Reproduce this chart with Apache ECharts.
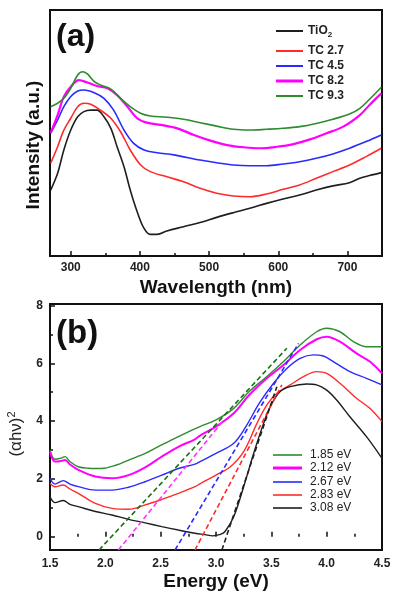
<!DOCTYPE html>
<html><head><meta charset="utf-8">
<script src="https://cdn.jsdelivr.net/npm/echarts@6/dist/echarts.min.js"></script>
<style>html,body{margin:0;padding:0;background:#fff}#c{width:400px;height:600px}</style>
</head><body><div id="c"></div>
<script>
// ---------- Panel (a): spectra ----------
const seriesNamesA = ['TiO2', 'TC 2.7', 'TC 4.5', 'TC 8.2', 'TC 9.3'];
const waveTickLabels = [300, 400, 500, 600, 700];
const waveMinorTicks = [350, 450, 550, 650];
const specTiO2 = [[271,26.8],[281,33.6],[290,43.1],[300,51.2],[310,56.6],[319,58.7],[329,59.3],[338,59.3],[348,56.6],[358,51.9],[367,44.4],[377,36.3],[386,26.8],[396,18.0],[406,11.2],[415,8.8],[425,8.8],[439,10.2],[463,11.9],[487,13.6],[511,15.7],[535,17.6],[559,19.4],[583,21.4],[607,23.2],[631,24.8],[655,26.8],[679,28.5],[703,29.8],[718,31.6],[732,32.7],[749,33.9]];
const specTC27 = [[271,37.7],[281,44.4],[290,51.2],[300,56.0],[310,60.7],[319,62.1],[329,61.7],[343,59.3],[358,56.0],[372,50.5],[386,43.1],[401,37.0],[415,34.3],[439,32.2],[463,30.2],[487,27.5],[511,25.5],[535,24.4],[559,24.1],[583,25.2],[607,27.1],[631,28.9],[655,31.6],[679,34.3],[703,37.0],[727,40.4],[749,43.8]];
const specTC45 = [[271,49.9],[281,55.3],[290,60.7],[300,64.8],[310,67.1],[319,67.5],[334,66.4],[348,64.1],[362,59.3],[377,51.2],[391,45.8],[406,43.1],[425,42.0],[449,41.1],[487,39.0],[511,37.9],[535,37.0],[559,36.7],[583,36.7],[607,37.4],[631,38.3],[655,39.7],[679,41.5],[703,43.8],[727,46.5],[749,49.2]];
const specTC82 = [[271,50.1],[281,57.3],[290,64.8],[300,68.8],[312,71.5],[324,70.5],[338,69.1],[353,68.2],[367,65.4],[382,60.7],[396,56.0],[410,54.2],[430,53.3],[454,51.9],[478,49.2],[502,46.9],[526,45.1],[550,44.2],[574,43.8],[598,44.4],[622,45.5],[646,47.4],[670,49.9],[694,52.6],[718,57.3],[732,61.4],[749,66.1]];
const specTC93 = [[271,60.7],[281,62.1],[290,64.1],[300,68.2],[310,73.6],[317,74.9],[324,74.0],[334,70.9],[343,69.5],[358,67.8],[372,64.1],[386,60.7],[401,58.0],[415,56.9],[439,56.4],[463,55.6],[487,54.2],[511,52.8],[535,51.5],[559,51.2],[583,51.5],[607,51.9],[631,52.6],[655,53.9],[679,55.6],[703,57.7],[718,60.0],[732,63.7],[749,68.6]];

// ---------- Panel (b): Tauc plot ----------
const seriesNamesB = ['1.85 eV', '2.12 eV', '2.67 eV', '2.83 eV', '3.08 eV'];
const taucYLabels = [0, 2, 4, 6, 8];
const taucYMinor = [1, 3, 5, 7];
const tauc185 = [[1.5,3.0],[1.545,2.68],[1.60,2.72],[1.636,2.77],[1.68,2.6],[1.756,2.42],[1.85,2.37],[1.967,2.36],[2.10,2.48],[2.21,2.65],[2.36,2.88],[2.47,3.1],[2.57,3.29],[2.75,3.63],[2.855,3.81],[3.0,4.04],[3.16,4.44],[3.30,5.02],[3.46,5.54],[3.61,6.06],[3.76,6.63],[3.91,7.09],[4.00,7.21],[4.12,7.09],[4.24,6.75],[4.36,6.57],[4.5,6.57]];
const tauc212 = [[1.5,2.94],[1.545,2.6],[1.60,2.62],[1.636,2.65],[1.68,2.5],[1.756,2.31],[1.91,2.08],[2.06,2.02],[2.21,2.13],[2.36,2.40],[2.51,2.77],[2.66,3.11],[2.81,3.37],[2.855,3.50],[3.0,3.81],[3.16,4.27],[3.30,4.90],[3.46,5.48],[3.61,5.94],[3.76,6.46],[3.91,6.83],[4.00,6.92],[4.12,6.75],[4.27,6.34],[4.39,6.06],[4.5,5.65]];
const tauc267 = [[1.5,2.02],[1.545,1.82],[1.62,1.94],[1.68,1.82],[1.756,1.73],[1.91,1.61],[2.06,1.61],[2.21,1.71],[2.36,1.90],[2.51,2.13],[2.66,2.36],[2.81,2.51],[2.855,2.6],[3.0,2.88],[3.16,3.23],[3.27,3.81],[3.39,4.61],[3.52,5.31],[3.64,5.82],[3.76,6.17],[3.88,6.29],[3.97,6.25],[4.06,6.06],[4.21,5.71],[4.36,5.48],[4.5,5.25]];
const tauc283 = [[1.5,1.85],[1.545,1.73],[1.62,1.79],[1.68,1.65],[1.756,1.5],[1.91,1.15],[2.06,0.98],[2.21,0.95],[2.36,1.10],[2.51,1.29],[2.66,1.5],[2.81,1.73],[2.855,1.83],[3.0,2.13],[3.13,2.42],[3.25,2.94],[3.37,3.92],[3.46,4.56],[3.55,4.96],[3.67,5.25],[3.79,5.54],[3.91,5.71],[4.00,5.65],[4.12,5.31],[4.27,4.79],[4.39,4.44],[4.5,3.98]];
const tauc308 = [[1.5,1.38],[1.545,1.18],[1.62,1.25],[1.68,1.12],[1.756,1.04],[1.91,0.87],[2.06,0.75],[2.21,0.60],[2.36,0.48],[2.51,0.35],[2.66,0.23],[2.81,0.12],[2.90,0.07],[2.97,0.03],[3.04,0.08],[3.08,0.17],[3.16,0.69],[3.25,1.73],[3.34,2.88],[3.43,3.92],[3.49,4.50],[3.58,5.02],[3.67,5.19],[3.82,5.28],[3.91,5.25],[4.00,5.07],[4.09,4.73],[4.21,4.15],[4.36,3.46],[4.5,2.71]];
// linear band-gap extrapolation lines (endpoints)
const fit185 = [[1.943,-0.46],[3.64,6.52]];
const fit212 = [[2.118,-0.46],[3.07,4.04]];
const fit267 = [[2.63,-0.46],[3.746,6.69]];
const fit283 = [[2.81,-0.46],[3.595,5.25]];
const fit308 = [[3.053,-0.46],[3.55,5.19]];

const FONT = '"Liberation Sans", Arial, sans-serif';
const colA = ['#1e1e1e', '#ff2b2b', '#2a2aff', '#ff00ff', '#2e8b2e'];
const dataA = [specTiO2, specTC27, specTC45, specTC82, specTC93];
const colB = ['#2e8b2e', '#ff00ff', '#2a2aff', '#ff2b2b', '#1e1e1e'];
const fitColB = ['#137313', '#ff33ff', '#2a2aff', '#ff2b2b', '#1e1e1e'];
const dataB = [tauc185, tauc212, tauc267, tauc283, tauc308];
const fitsB = [fit185, fit212, fit267, fit283, fit308];

const legendTopsA = [25, 45, 60, 75, 90];
const legendTopsB = [449, 462, 476, 489, 502];

const series = [];
dataA.forEach((d, i) => series.push({
  name: seriesNamesA[i], type: 'line', xAxisIndex: 0, yAxisIndex: 0, data: d,
  symbol: 'none', smooth: 0.35, lineStyle: { color: colA[i], width: i === 3 ? 2.2 : 1.6 },
  itemStyle: { color: colA[i] }, z: 3
}));
dataB.forEach((d, i) => series.push({
  name: seriesNamesB[i], type: 'line', xAxisIndex: 2, yAxisIndex: 1, data: d,
  symbol: 'none', smooth: 0.35, lineStyle: { color: colB[i], width: i === 1 ? 2 : 1.4 },
  itemStyle: { color: colB[i] }, z: 3
}));
fitsB.forEach((d, i) => series.push({
  name: 'fit ' + seriesNamesB[i], type: 'line', xAxisIndex: 2, yAxisIndex: 1, data: d,
  symbol: 'none', lineStyle: { color: fitColB[i], width: 1.6, type: [5, 3] }, z: 4
}));

const legends = [];
seriesNamesA.forEach((n, i) => legends.push({
  data: [n], left: 276, top: legendTopsA[i], padding: 0, icon: 'rect',
  itemWidth: 27, itemHeight: i === 3 ? 3 : 2,
  formatter: name => name === 'TiO2' ? 'TiO{s|2}' : name,
  textStyle: { fontFamily: FONT, fontSize: 12, fontWeight: 'bold', color: '#222',
    rich: { s: { fontFamily: FONT, fontSize: 8, fontWeight: 'bold', color: '#222', padding: [7, 0, 0, 0] } } }
}));
seriesNamesB.forEach((n, i) => legends.push({
  data: [n], left: 273, top: legendTopsB[i], padding: 0, icon: 'rect',
  itemWidth: 29, itemHeight: i === 1 ? 3 : 1.6,
  textStyle: { fontFamily: FONT, fontSize: 12, color: '#222', padding: [0, 0, 0, 3] }
}));

const tickLbl = { fontFamily: FONT, fontSize: 12, fontWeight: 'bold', color: '#222' };
const nameBold = { fontFamily: FONT, fontSize: 19, fontWeight: 'bold', color: '#111' };

const option = {
  animation: false,
  title: [
    { text: '(a)', left: 56, top: 21, padding: 0, textStyle: { fontFamily: FONT, fontSize: 32, fontWeight: 'bold', color: '#111' } },
    { text: '(b)', left: 56, top: 317, padding: 0, textStyle: { fontFamily: FONT, fontSize: 33, fontWeight: 'bold', color: '#111' } }
  ],
  legend: legends,
  grid: [
    { left: 50, top: 10, width: 332, height: 246, show: true, borderColor: '#111', borderWidth: 2, backgroundColor: 'transparent', containLabel: false, outerBoundsMode: 'none' },
    { left: 50, top: 304, width: 332, height: 246, show: true, borderColor: '#111', borderWidth: 2, backgroundColor: 'transparent', containLabel: false, outerBoundsMode: 'none' }
  ],
  xAxis: [
    { type: 'value', gridIndex: 0, position: 'bottom', min: 270, max: 750, splitLine: { show: false }, axisLine: { show: false },
      axisTick: { show: true, inside: true, length: 5, customValues: waveTickLabels, lineStyle: { color: '#111', width: 1.5 } },
      axisLabel: { customValues: waveTickLabels, margin: 6, ...tickLbl },
      name: 'Wavelength (nm)', nameLocation: 'middle', nameGap: 22, nameTextStyle: nameBold },
    { type: 'value', gridIndex: 0, position: 'bottom', min: 270, max: 750, splitLine: { show: false }, axisLine: { show: false },
      axisTick: { show: true, inside: true, length: 3, customValues: waveMinorTicks, lineStyle: { color: '#111', width: 1.5 } },
      axisLabel: { show: false } },
    { type: 'value', gridIndex: 1, position: 'bottom', min: 1.5, max: 4.5, interval: 0.5, splitLine: { show: false }, axisLine: { show: false },
      axisTick: { show: true, inside: true, length: 5, lineStyle: { color: '#111', width: 1.5 } },
      minorTick: { show: true, splitNumber: 2, length: 3, lineStyle: { color: '#111', width: 1.5 } },
      axisLabel: { margin: 8, formatter: v => v.toFixed(1), ...tickLbl },
      name: 'Energy (eV)', nameLocation: 'middle', nameGap: 22, nameTextStyle: nameBold }
  ],
  yAxis: [
    { type: 'value', gridIndex: 0, position: 'left', min: 0, max: 100, splitLine: { show: false }, axisLine: { show: false },
      axisTick: { show: false }, axisLabel: { show: false },
      name: 'Intensity (a.u.)', nameLocation: 'middle', nameGap: 7, nameRotate: 90,
      nameTextStyle: { ...nameBold, padding: [0, 24, 0, 0] } },
    { type: 'value', gridIndex: 1, position: 'left', min: -0.46, max: 8.05, splitLine: { show: false }, axisLine: { show: false },
      axisTick: { show: true, inside: true, length: 5, customValues: taucYLabels, lineStyle: { color: '#111', width: 1.5 } },
      axisLabel: { customValues: taucYLabels, margin: 7, ...tickLbl },
      name: '(αhν){s|2}', nameLocation: 'middle', nameGap: 24, nameRotate: 90,
      nameTextStyle: { fontFamily: FONT, fontSize: 17, color: '#222', padding: [0, 14, 0, 0],
        rich: { s: { fontFamily: FONT, fontSize: 11, color: '#222', padding: [0, 0, 9, 0] } } } },
    { type: 'value', gridIndex: 1, position: 'left', offset: 0, min: -0.46, max: 8.05, splitLine: { show: false }, axisLine: { show: false },
      axisTick: { show: true, inside: true, length: 3, customValues: taucYMinor, lineStyle: { color: '#111', width: 1.5 } },
      axisLabel: { show: false } }
  ],
  series: series
};
echarts.init(document.getElementById('c'), null, { renderer: 'canvas' }).setOption(option);
</script></body></html>
